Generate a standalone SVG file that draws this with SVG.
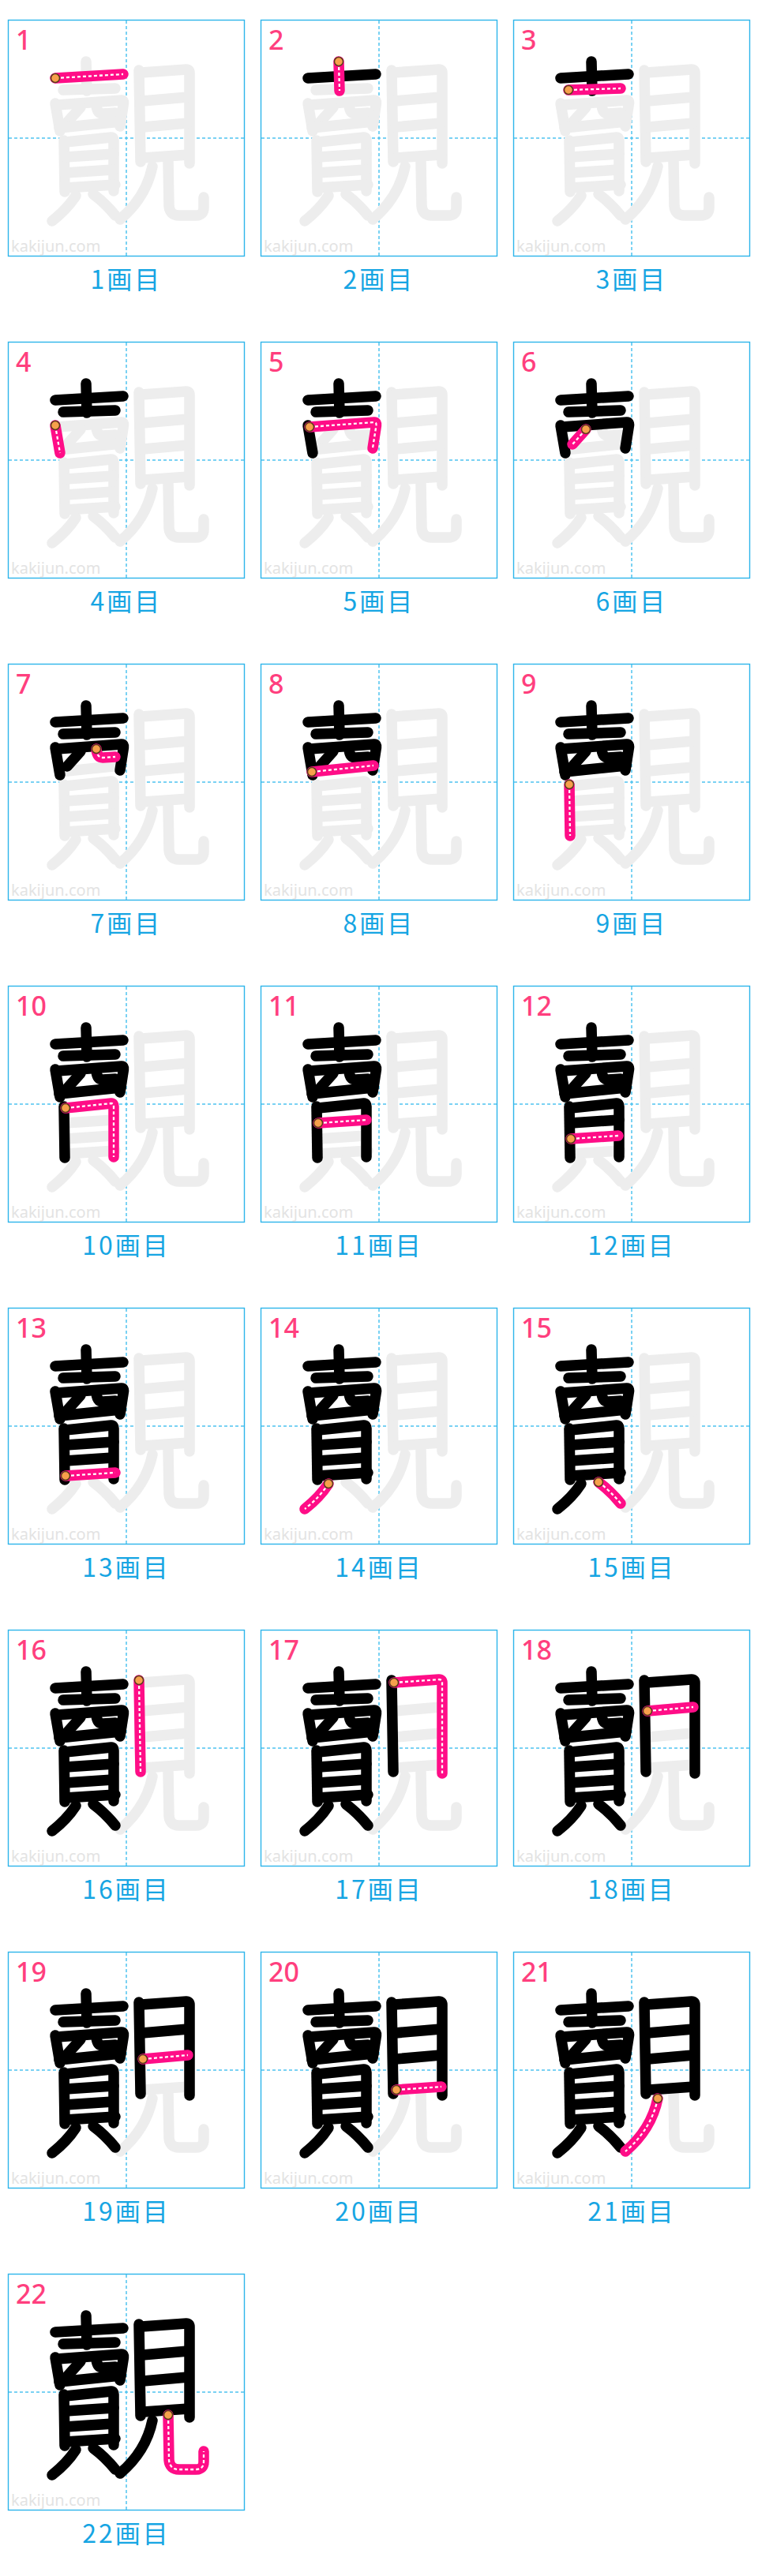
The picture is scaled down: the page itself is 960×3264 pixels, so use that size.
<svg xmlns="http://www.w3.org/2000/svg" xmlns:xlink="http://www.w3.org/1999/xlink" width="960" height="3264" viewBox="0 0 960 3264">
<style>
.bg{fill:#fff}
.box{fill:#fff;stroke:#2db5ea;stroke-width:1.4}
.guide{fill:none;stroke:#4fc4f0;stroke-width:1.5;stroke-dasharray:4 3}
.wm{font-family:"Noto Sans",sans-serif;font-size:20px;fill:#e3e3e3}
.gray{fill:none;stroke:#ededed;stroke-width:13.5;stroke-linecap:round;stroke-linejoin:round}
.done{fill:none;stroke:#000;stroke-width:13.5;stroke-linecap:round;stroke-linejoin:round}
.cur{fill:none;stroke:#ff0d87;stroke-width:13.5;stroke-linecap:round;stroke-linejoin:round}
.dash{fill:none;stroke:#fff;stroke-width:2.3;stroke-dasharray:4 3;stroke-linecap:butt;stroke-linejoin:round}
.start{fill:#f7a04b;stroke:#5b3b1e;stroke-width:1.5}
.num{font-family:"Noto Sans",sans-serif;font-size:34px;fill:#ff3f7e;font-weight:500}
.label{font-family:"Noto Sans CJK JP","Noto Sans",sans-serif;font-size:32px;fill:#16a5e3;text-anchor:middle;letter-spacing:3px}
</style>
<defs>
<g id="frame">
<rect class="box" x="0.5" y="0.5" width="299" height="299"/>
<line class="guide" x1="150" y1="1" x2="150" y2="299"/>
<line class="guide" x1="1" y1="150" x2="299" y2="150"/>
<text class="wm" x="4" y="294">kakijun.com</text>
</g>
<path id="s1" d="M60 74 L146 69"/>
<path id="s2" d="M99 53 L100 90"/>
<path id="s3" d="M70 89 L136 87"/>
<path id="s4" d="M60 106 L66 141"/>
<path id="s5" d="M62 108 L144 102 Q147 102 146.5 106 L142 135"/>
<path id="s6" d="M92 111 L75 130"/>
<path id="s7" d="M112 108 Q113 119 120 119 L136 118"/>
<path id="s8" d="M65 137 L143 129"/>
<path id="s9" d="M71 153 L72 218"/>
<path id="s10" d="M73 155 L131 149 Q134 149 134 153 L134 217"/>
<path id="s11" d="M73 174 L134 170"/>
<path id="s12" d="M73 194 L133 190"/>
<path id="s13" d="M73 213 L136 209"/>
<path id="s14" d="M86 223 Q75 240 56 255"/>
<path id="s15" d="M108 221 Q123 232 136 248"/>
<path id="s16" d="M166 64 L168 180"/>
<path id="s17" d="M169 67 L226 63 Q230 63 230 67 L230 182"/>
<path id="s18" d="M170 103 L228 98"/>
<path id="s19" d="M171 136 L228 131"/>
<path id="s20" d="M172 175 L229 171"/>
<path id="s21" d="M183 186 Q175 225 142 253"/>
<path id="s22" d="M203 179 L204 236 Q205 248 217 248 L238 248 Q248 248 248 238 L248 225"/>
<g id="c1"><use xlink:href="#s1"/></g>
<g id="c2"><use xlink:href="#c1"/><use xlink:href="#s2"/></g>
<g id="c3"><use xlink:href="#c2"/><use xlink:href="#s3"/></g>
<g id="c4"><use xlink:href="#c3"/><use xlink:href="#s4"/></g>
<g id="c5"><use xlink:href="#c4"/><use xlink:href="#s5"/></g>
<g id="c6"><use xlink:href="#c5"/><use xlink:href="#s6"/></g>
<g id="c7"><use xlink:href="#c6"/><use xlink:href="#s7"/></g>
<g id="c8"><use xlink:href="#c7"/><use xlink:href="#s8"/></g>
<g id="c9"><use xlink:href="#c8"/><use xlink:href="#s9"/></g>
<g id="c10"><use xlink:href="#c9"/><use xlink:href="#s10"/></g>
<g id="c11"><use xlink:href="#c10"/><use xlink:href="#s11"/></g>
<g id="c12"><use xlink:href="#c11"/><use xlink:href="#s12"/></g>
<g id="c13"><use xlink:href="#c12"/><use xlink:href="#s13"/></g>
<g id="c14"><use xlink:href="#c13"/><use xlink:href="#s14"/></g>
<g id="c15"><use xlink:href="#c14"/><use xlink:href="#s15"/></g>
<g id="c16"><use xlink:href="#c15"/><use xlink:href="#s16"/></g>
<g id="c17"><use xlink:href="#c16"/><use xlink:href="#s17"/></g>
<g id="c18"><use xlink:href="#c17"/><use xlink:href="#s18"/></g>
<g id="c19"><use xlink:href="#c18"/><use xlink:href="#s19"/></g>
<g id="c20"><use xlink:href="#c19"/><use xlink:href="#s20"/></g>
<g id="c21"><use xlink:href="#c20"/><use xlink:href="#s21"/></g>
<g id="c22"><use xlink:href="#c21"/><use xlink:href="#s22"/></g>
</defs>
<rect class="bg" x="0" y="0" width="960" height="3264"/>

<g id="p1" transform="translate(10,25)"><use xlink:href="#frame"/><use xlink:href="#c22" class="gray"/><use xlink:href="#s1" class="cur"/><use xlink:href="#s1" class="dash"/><circle class="start" cx="60" cy="74" r="5.5"/><text class="num" x="10" y="38">1</text><text class="label" x="150" y="341">1画目</text></g>
<g id="p2" transform="translate(330,25)"><use xlink:href="#frame"/><use xlink:href="#c22" class="gray"/><use xlink:href="#c1" class="done"/><use xlink:href="#s2" class="cur"/><use xlink:href="#s2" class="dash"/><circle class="start" cx="99" cy="53" r="5.5"/><text class="num" x="10" y="38">2</text><text class="label" x="150" y="341">2画目</text></g>
<g id="p3" transform="translate(650,25)"><use xlink:href="#frame"/><use xlink:href="#c22" class="gray"/><use xlink:href="#c2" class="done"/><use xlink:href="#s3" class="cur"/><use xlink:href="#s3" class="dash"/><circle class="start" cx="70" cy="89" r="5.5"/><text class="num" x="10" y="38">3</text><text class="label" x="150" y="341">3画目</text></g>
<g id="p4" transform="translate(10,433)"><use xlink:href="#frame"/><use xlink:href="#c22" class="gray"/><use xlink:href="#c3" class="done"/><use xlink:href="#s4" class="cur"/><use xlink:href="#s4" class="dash"/><circle class="start" cx="60" cy="106" r="5.5"/><text class="num" x="10" y="38">4</text><text class="label" x="150" y="341">4画目</text></g>
<g id="p5" transform="translate(330,433)"><use xlink:href="#frame"/><use xlink:href="#c22" class="gray"/><use xlink:href="#c4" class="done"/><use xlink:href="#s5" class="cur"/><use xlink:href="#s5" class="dash"/><circle class="start" cx="62" cy="108" r="5.5"/><text class="num" x="10" y="38">5</text><text class="label" x="150" y="341">5画目</text></g>
<g id="p6" transform="translate(650,433)"><use xlink:href="#frame"/><use xlink:href="#c22" class="gray"/><use xlink:href="#c5" class="done"/><use xlink:href="#s6" class="cur"/><use xlink:href="#s6" class="dash"/><circle class="start" cx="92" cy="111" r="5.5"/><text class="num" x="10" y="38">6</text><text class="label" x="150" y="341">6画目</text></g>
<g id="p7" transform="translate(10,841)"><use xlink:href="#frame"/><use xlink:href="#c22" class="gray"/><use xlink:href="#c6" class="done"/><use xlink:href="#s7" class="cur"/><use xlink:href="#s7" class="dash"/><circle class="start" cx="112" cy="108" r="5.5"/><text class="num" x="10" y="38">7</text><text class="label" x="150" y="341">7画目</text></g>
<g id="p8" transform="translate(330,841)"><use xlink:href="#frame"/><use xlink:href="#c22" class="gray"/><use xlink:href="#c7" class="done"/><use xlink:href="#s8" class="cur"/><use xlink:href="#s8" class="dash"/><circle class="start" cx="65" cy="137" r="5.5"/><text class="num" x="10" y="38">8</text><text class="label" x="150" y="341">8画目</text></g>
<g id="p9" transform="translate(650,841)"><use xlink:href="#frame"/><use xlink:href="#c22" class="gray"/><use xlink:href="#c8" class="done"/><use xlink:href="#s9" class="cur"/><use xlink:href="#s9" class="dash"/><circle class="start" cx="71" cy="153" r="5.5"/><text class="num" x="10" y="38">9</text><text class="label" x="150" y="341">9画目</text></g>
<g id="p10" transform="translate(10,1249)"><use xlink:href="#frame"/><use xlink:href="#c22" class="gray"/><use xlink:href="#c9" class="done"/><use xlink:href="#s10" class="cur"/><use xlink:href="#s10" class="dash"/><circle class="start" cx="73" cy="155" r="5.5"/><text class="num" x="10" y="38">10</text><text class="label" x="150" y="341">10画目</text></g>
<g id="p11" transform="translate(330,1249)"><use xlink:href="#frame"/><use xlink:href="#c22" class="gray"/><use xlink:href="#c10" class="done"/><use xlink:href="#s11" class="cur"/><use xlink:href="#s11" class="dash"/><circle class="start" cx="73" cy="174" r="5.5"/><text class="num" x="10" y="38">11</text><text class="label" x="150" y="341">11画目</text></g>
<g id="p12" transform="translate(650,1249)"><use xlink:href="#frame"/><use xlink:href="#c22" class="gray"/><use xlink:href="#c11" class="done"/><use xlink:href="#s12" class="cur"/><use xlink:href="#s12" class="dash"/><circle class="start" cx="73" cy="194" r="5.5"/><text class="num" x="10" y="38">12</text><text class="label" x="150" y="341">12画目</text></g>
<g id="p13" transform="translate(10,1657)"><use xlink:href="#frame"/><use xlink:href="#c22" class="gray"/><use xlink:href="#c12" class="done"/><use xlink:href="#s13" class="cur"/><use xlink:href="#s13" class="dash"/><circle class="start" cx="73" cy="213" r="5.5"/><text class="num" x="10" y="38">13</text><text class="label" x="150" y="341">13画目</text></g>
<g id="p14" transform="translate(330,1657)"><use xlink:href="#frame"/><use xlink:href="#c22" class="gray"/><use xlink:href="#c13" class="done"/><use xlink:href="#s14" class="cur"/><use xlink:href="#s14" class="dash"/><circle class="start" cx="86" cy="223" r="5.5"/><text class="num" x="10" y="38">14</text><text class="label" x="150" y="341">14画目</text></g>
<g id="p15" transform="translate(650,1657)"><use xlink:href="#frame"/><use xlink:href="#c22" class="gray"/><use xlink:href="#c14" class="done"/><use xlink:href="#s15" class="cur"/><use xlink:href="#s15" class="dash"/><circle class="start" cx="108" cy="221" r="5.5"/><text class="num" x="10" y="38">15</text><text class="label" x="150" y="341">15画目</text></g>
<g id="p16" transform="translate(10,2065)"><use xlink:href="#frame"/><use xlink:href="#c22" class="gray"/><use xlink:href="#c15" class="done"/><use xlink:href="#s16" class="cur"/><use xlink:href="#s16" class="dash"/><circle class="start" cx="166" cy="64" r="5.5"/><text class="num" x="10" y="38">16</text><text class="label" x="150" y="341">16画目</text></g>
<g id="p17" transform="translate(330,2065)"><use xlink:href="#frame"/><use xlink:href="#c22" class="gray"/><use xlink:href="#c16" class="done"/><use xlink:href="#s17" class="cur"/><use xlink:href="#s17" class="dash"/><circle class="start" cx="169" cy="67" r="5.5"/><text class="num" x="10" y="38">17</text><text class="label" x="150" y="341">17画目</text></g>
<g id="p18" transform="translate(650,2065)"><use xlink:href="#frame"/><use xlink:href="#c22" class="gray"/><use xlink:href="#c17" class="done"/><use xlink:href="#s18" class="cur"/><use xlink:href="#s18" class="dash"/><circle class="start" cx="170" cy="103" r="5.5"/><text class="num" x="10" y="38">18</text><text class="label" x="150" y="341">18画目</text></g>
<g id="p19" transform="translate(10,2473)"><use xlink:href="#frame"/><use xlink:href="#c22" class="gray"/><use xlink:href="#c18" class="done"/><use xlink:href="#s19" class="cur"/><use xlink:href="#s19" class="dash"/><circle class="start" cx="171" cy="136" r="5.5"/><text class="num" x="10" y="38">19</text><text class="label" x="150" y="341">19画目</text></g>
<g id="p20" transform="translate(330,2473)"><use xlink:href="#frame"/><use xlink:href="#c22" class="gray"/><use xlink:href="#c19" class="done"/><use xlink:href="#s20" class="cur"/><use xlink:href="#s20" class="dash"/><circle class="start" cx="172" cy="175" r="5.5"/><text class="num" x="10" y="38">20</text><text class="label" x="150" y="341">20画目</text></g>
<g id="p21" transform="translate(650,2473)"><use xlink:href="#frame"/><use xlink:href="#c22" class="gray"/><use xlink:href="#c20" class="done"/><use xlink:href="#s21" class="cur"/><use xlink:href="#s21" class="dash"/><circle class="start" cx="183" cy="186" r="5.5"/><text class="num" x="10" y="38">21</text><text class="label" x="150" y="341">21画目</text></g>
<g id="p22" transform="translate(10,2881)"><use xlink:href="#frame"/><use xlink:href="#c22" class="gray"/><use xlink:href="#c21" class="done"/><use xlink:href="#s22" class="cur"/><use xlink:href="#s22" class="dash"/><circle class="start" cx="203" cy="179" r="5.5"/><text class="num" x="10" y="38">22</text><text class="label" x="150" y="341">22画目</text></g>
</svg>
